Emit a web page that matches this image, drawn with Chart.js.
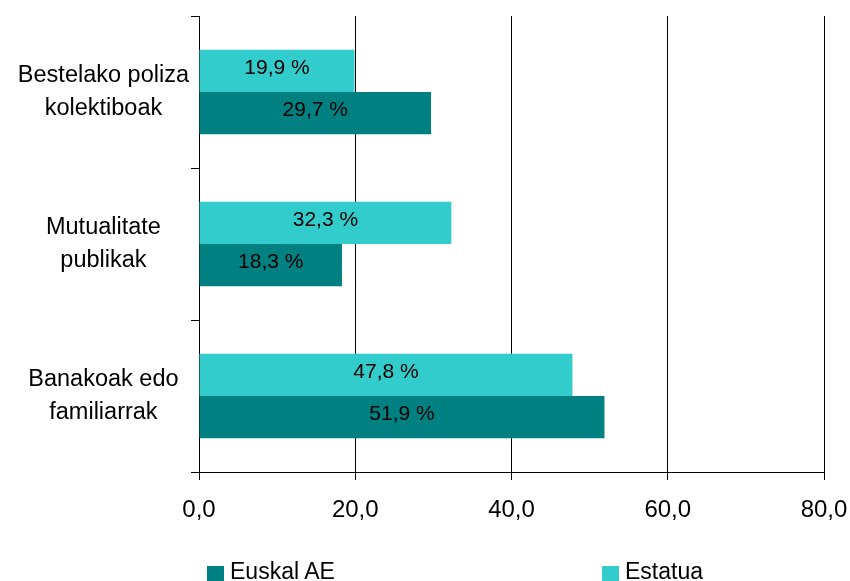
<!DOCTYPE html>
<html>
<head>
<meta charset="utf-8">
<script src="https://cdn.jsdelivr.net/npm/chart.js@4"></script>
<style>
  html, body { margin: 0; padding: 0; background: #fff; overflow: hidden; }
  #wrap { position: relative; width: 850px; height: 581px; }
  canvas { position: absolute; left: 0; top: 0; }
  .lg { position: absolute; font-family: "Liberation Sans", Arial, sans-serif; font-size: 23px; line-height: 23px; color: #000; white-space: nowrap; }
  .sw { position: absolute; width: 17px; height: 17px; }
</style>
</head>
<body>
<div id="wrap">
  <canvas id="c" width="850" height="581"></canvas>
  <div class="sw" style="left:207px; top:566px; background:#008080;"></div>
  <div class="lg" style="left:230px; top:560px;">Euskal AE</div>
  <div class="sw" style="left:602px; top:566px; background:#33CCCC;"></div>
  <div class="lg" style="left:625px; top:560px;">Estatua</div>
</div>
<script>
const categories = [
  ["Bestelako poliza", "kolektiboak"],
  ["Mutualitate", "publikak"],
  ["Banakoak edo", "familiarrak"]
];
const estatuaValues = [19.9, 32.3, 47.8];
const euskalValues = [29.7, 18.3, 51.9];
const xTicks = [0, 20, 40, 60, 80];

const fmt = v => Number(v).toFixed(1).replace('.', ',');

const barLabels = {
  id: 'barLabels',
  afterDatasetsDraw(chart) {
    const ctx = chart.ctx;
    ctx.save();
    ctx.font = '21px "Liberation Sans", Arial, sans-serif';
    ctx.fillStyle = '#000';
    ctx.textAlign = 'center';
    ctx.textBaseline = 'middle';
    chart.data.datasets.forEach((ds, di) => {
      const meta = chart.getDatasetMeta(di);
      meta.data.forEach((el, i) => {
        const cx = (el.x + el.base) / 2;
        ctx.fillText(fmt(ds.data[i]) + ' %', cx, el.y - 3);
      });
    });
    ctx.restore();
  }
};

const noPad = s => { s.paddingTop = 0; s.paddingBottom = 0; s.paddingLeft = 0; s.paddingRight = 0; };

new Chart(document.getElementById('c'), {
  type: 'bar',
  data: {
    labels: categories,
    datasets: [
      { label: 'Estatua', data: estatuaValues, backgroundColor: '#33CCCC', borderWidth: 0,
        categoryPercentage: 0.555, barPercentage: 1.0 },
      { label: 'Euskal AE', data: euskalValues, backgroundColor: '#008080', borderWidth: 0,
        categoryPercentage: 0.555, barPercentage: 1.0 }
    ]
  },
  options: {
    indexAxis: 'y',
    responsive: false,
    animation: false,
    devicePixelRatio: 1,
    layout: { padding: { top: 16, right: 26, left: 0, bottom: 0 } },
    plugins: { legend: { display: false }, tooltip: { enabled: false } },
    scales: {
      x: {
        min: 0, max: 80,
        afterBuildTicks: s => { s.ticks = xTicks.map(v => ({ value: v })); },
        afterFit: s => { s.height = 109; noPad(s); },
        grid: { color: '#000', lineWidth: 1, drawTicks: true, tickLength: 8, tickColor: '#000' },
        border: { display: true, color: '#000', width: 1 },
        ticks: {
          color: '#000', padding: 16, maxRotation: 0,
          font: { family: '"Liberation Sans", Arial, sans-serif', size: 24 },
          callback: v => fmt(v)
        }
      },
      y: {
        afterFit: s => { s.width = 199; noPad(s); },
        grid: { offset: true, drawOnChartArea: false, drawTicks: true, tickLength: 8, color: '#000', tickColor: '#000' },
        border: { display: true, color: '#000', width: 1 },
        ticks: {
          color: '#000', padding: 2, crossAlign: 'center',
          font: { family: '"Liberation Sans", Arial, sans-serif', size: 23.5, lineHeight: 1.42 }
        }
      }
    }
  },
  plugins: [barLabels]
});
</script>
</body>
</html>
